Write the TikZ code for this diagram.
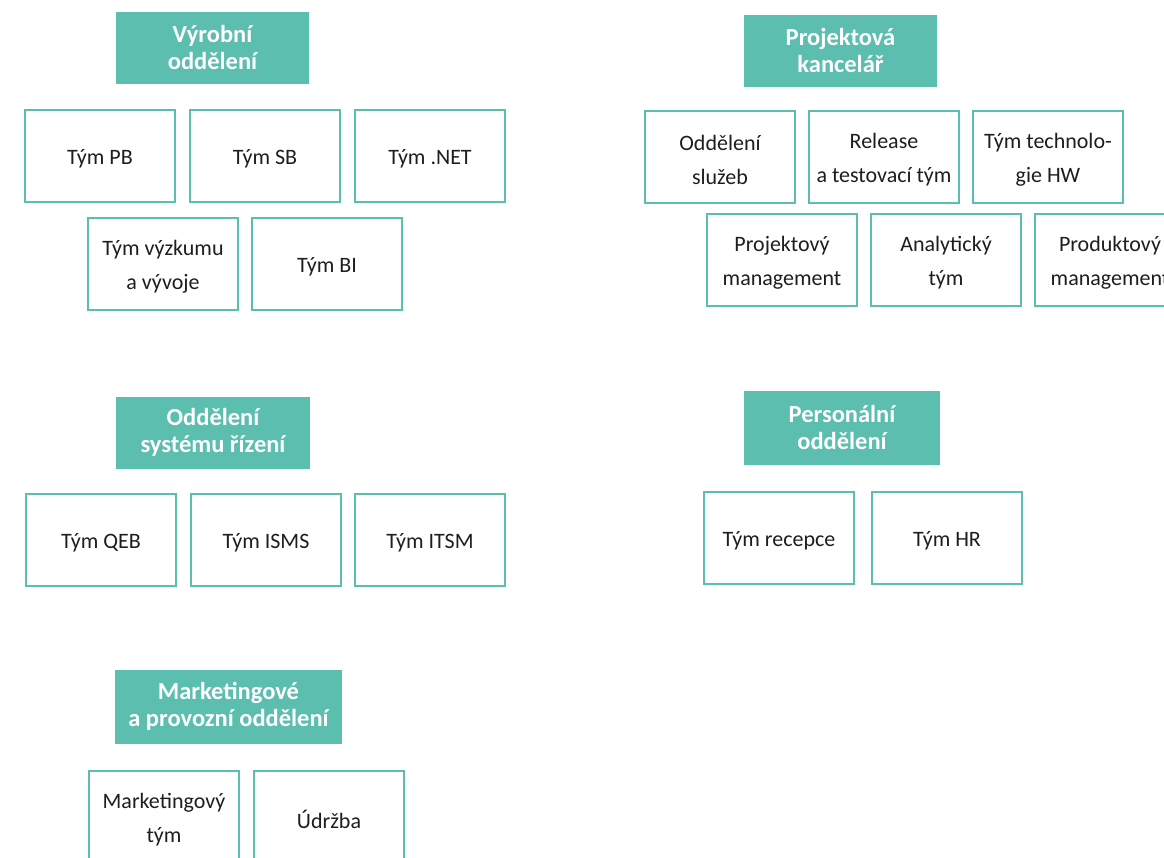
\documentclass[tikz,border=0pt]{standalone}
\usepackage{fontspec}
\setmainfont{Carlito}
\definecolor{teal1}{RGB}{91,190,174}
\definecolor{txt}{RGB}{30,30,30}
\tikzset{
  x=1pt,y=-1pt,
  head/.style={fill=teal1,draw=none,text=white,font=\bfseries\fontsize{24.5}{27}\selectfont,
    align=center,minimum width=193pt,minimum height=72pt,inner sep=0pt,outer sep=0pt},
  team/.style={draw=teal1,line width=2.5pt,fill=white,
    minimum width=150pt,minimum height=92pt,inner sep=0pt,outer sep=0pt},
  teamtxt/.style={text=txt,font=\fontsize{22}{34}\selectfont,align=center,inner sep=0pt}
}
\newcommand\tbox[3]{\node[team] (#1) at (#2) {};
  \node[teamtxt] (#1t) at ([yshift=-2.5pt]#1.center) {#3};}
\begin{document}
\begin{tikzpicture}
\useasboundingbox (0,0) rectangle (1164,857);
\clip (0,0) rectangle (1164,857);
% Výrobní oddělení
\node[head] (h1) at (212.5,47.5) {Výrobní\\oddělení};
\tbox{pb}{100,156}{Tým PB}
\tbox{sb}{265,156}{Tým SB}
\tbox{net}{430,156}{Tým .NET}
\tbox{vav}{163,264}{Tým výzkumu\\a vývoje}
\tbox{bi}{327,264}{Tým BI}
% Projektová kancelář
\node[head] (h2) at (840.5,50.5) {Projektová\\kancelář};
\tbox{sluz}{720,157}{Oddělení\\služeb}
\tbox{rel}{884,157}{Release\\a testovací tým}
\tbox{tech}{1048,157}{Tým technolo-\\gie HW}
\tbox{pm}{782,260}{Projektový\\management}
\tbox{an}{946,260}{Analytický\\tým}
\tbox{prm}{1110,260}{Produktový\\management}
% Oddělení systému řízení
\node[head,minimum width=194pt] (h3) at (213,432.5) {Oddělení\\systému řízení};
\tbox{qeb}{101,540}{Tým QEB}
\tbox{isms}{266,540}{Tým ISMS}
\tbox{itsm}{430,540}{Tým ITSM}
% Personální oddělení
\node[head,minimum width=196pt,minimum height=74pt] (h4) at (842,427.5) {Personální\\oddělení};
\tbox{rec}{779,538}{Tým recepce}
\tbox{hr}{947,538}{Tým HR}
% Marketingové a provozní oddělení
\node[head,minimum width=227pt,minimum height=74pt] (h5) at (228.5,706.5) {Marketingové\\a provozní oddělení};
\tbox{mt}{164,817}{Marketingový\\tým}
\tbox{udr}{329,817}{Údržba}
\end{tikzpicture}
\end{document}
